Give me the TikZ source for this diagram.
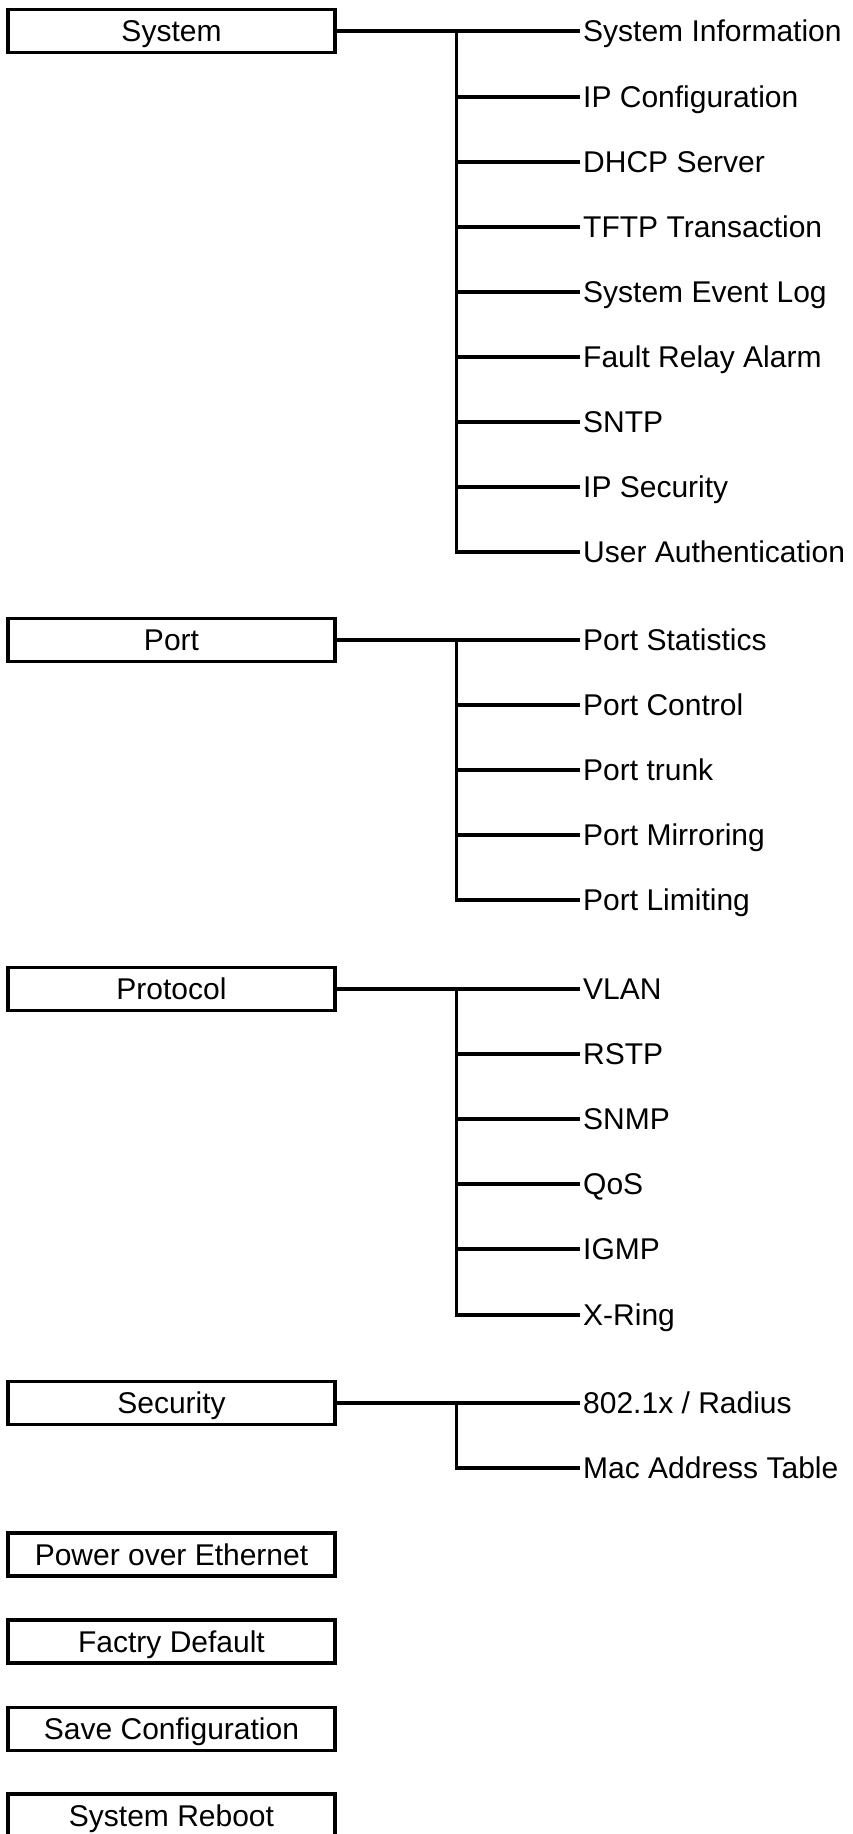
\documentclass[tikz,border=0pt]{standalone}
\usepackage{fontspec}
\setmainfont{Liberation Sans}
\begin{document}
\begin{tikzpicture}[x=1pt,y=-1pt,
  box/.style={draw,line width=3.3pt,minimum width=327pt,minimum height=43pt,inner sep=0pt,
    text height=21pt,text depth=0pt,font=\fontsize{30}{30}\selectfont},
  item/.style={anchor=west,inner ysep=0pt,inner xsep=3pt,text height=21pt,text depth=0pt,
    font=\fontsize{30}{30}\selectfont},
  conn/.style={line width=3.2pt,line join=miter}]
\useasboundingbox (0,0) rectangle (852,1834);
\coordinate (trunk) at (456.5,0);
% System
\node[box] (sys) at (171.5,31) {System};
\node[item] (s1) at (580,31) {System Information};
\node[item] (s2) at (580,97) {IP Configuration};
\node[item] (s3) at (580,162) {DHCP Server};
\node[item] (s4) at (580,227) {TFTP Transaction};
\node[item] (s5) at (580,292) {System Event Log};
\node[item] (s6) at (580,357) {Fault Relay Alarm};
\node[item] (s7) at (580,422) {SNTP};
\node[item] (s8) at (580,487) {IP Security};
\node[item] (s9) at (580,552) {User Authentication};
\draw[conn] (sys.east |- s1.west) -- (s1.west);
\draw[conn] (s1.west -| trunk) |- (s9.west);
\foreach \i in {2,...,8} \draw[conn] (s\i.west -| trunk) -- (s\i.west);
% Port
\node[box] (port) at (171.5,640) {Port};
\node[item] (p1) at (580,640) {Port Statistics};
\node[item] (p2) at (580,705) {Port Control};
\node[item] (p3) at (580,770) {Port trunk};
\node[item] (p4) at (580,835) {Port Mirroring};
\node[item] (p5) at (580,900) {Port Limiting};
\draw[conn] (port.east |- p1.west) -- (p1.west);
\draw[conn] (p1.west -| trunk) |- (p5.west);
\foreach \i in {2,...,4} \draw[conn] (p\i.west -| trunk) -- (p\i.west);
% Protocol
\node[box] (prot) at (171.5,989) {Protocol};
\node[item] (r1) at (580,989) {VLAN};
\node[item] (r2) at (580,1054) {RSTP};
\node[item] (r3) at (580,1119) {SNMP};
\node[item] (r4) at (580,1184) {QoS};
\node[item] (r5) at (580,1249) {IGMP};
\node[item] (r6) at (580,1315) {X-Ring};
\draw[conn] (prot.east |- r1.west) -- (r1.west);
\draw[conn] (r1.west -| trunk) |- (r6.west);
\foreach \i in {2,...,5} \draw[conn] (r\i.west -| trunk) -- (r\i.west);
% Security
\node[box] (sec) at (171.5,1403) {Security};
\node[item] (c1) at (580,1403) {802.1x / Radius};
\node[item] (c2) at (580,1468) {Mac Address Table};
\draw[conn] (sec.east |- c1.west) -- (c1.west);
\draw[conn] (c1.west -| trunk) |- (c2.west);
% Single boxes
\node[box] (poe) at (171.5,1554.5) {Power over Ethernet};
\node[box] (fac) at (171.5,1641.5) {Factry Default};
\node[box] (save) at (171.5,1729) {Save Configuration};
\node[box] (reb) at (171.5,1815.5) {System Reboot};
\end{tikzpicture}
\end{document}
